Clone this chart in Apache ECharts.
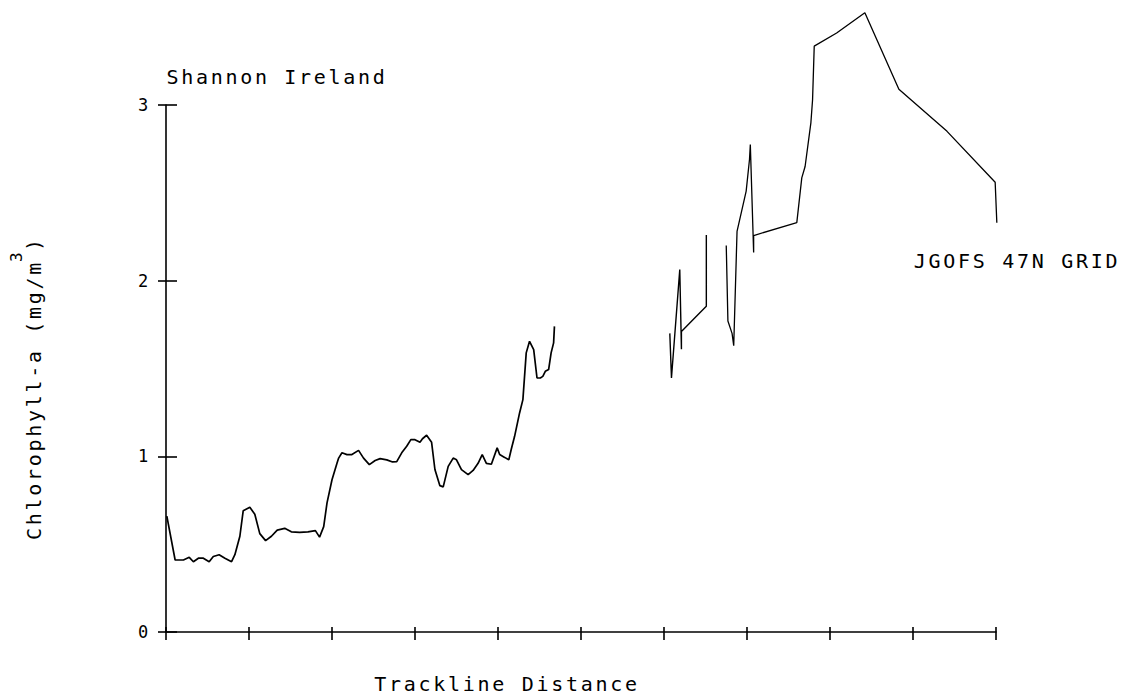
<!DOCTYPE html>
<html>
<head>
<meta charset="utf-8">
<script src="https://cdn.jsdelivr.net/npm/echarts@6/dist/echarts.min.js"></script>
<style>
html,body{margin:0;padding:0;background:#fff;}
#chart{width:1128px;height:698px;}
#chart text{letter-spacing:2.7px;}
</style>
</head>
<body>
<div id="chart"></div>
<script>
// Trackline distance (axis units 0..10) and chlorophyll-a (mg/m^3)
const shannonX = [0.01,0.11,0.21,0.28,0.33,0.39,0.45,0.52,0.57,0.64,0.71,0.79,0.83,0.89,0.93,1.01,1.07,1.13,1.20,1.27,1.34,1.43,1.51,1.61,1.71,1.80,1.85,1.90,1.94,2.00,2.06,2.08,2.12,2.18,2.24,2.32,2.38,2.45,2.52,2.58,2.66,2.73,2.78,2.84,2.90,2.95,3.00,3.06,3.09,3.14,3.20,3.24,3.30,3.34,3.40,3.46,3.50,3.56,3.64,3.70,3.76,3.81,3.86,3.92,3.99,4.02,4.08,4.13,4.16,4.20,4.26,4.30,4.34,4.38,4.43,4.47,4.51,4.54,4.57,4.61,4.64,4.67,4.68];
const shannonY = [0.66,0.41,0.41,0.425,0.40,0.42,0.42,0.40,0.43,0.44,0.42,0.40,0.44,0.545,0.69,0.71,0.67,0.56,0.52,0.545,0.58,0.59,0.57,0.567,0.57,0.577,0.54,0.60,0.735,0.867,0.96,0.99,1.02,1.01,1.01,1.034,0.99,0.953,0.976,0.987,0.98,0.968,0.97,1.02,1.057,1.095,1.095,1.08,1.10,1.12,1.08,0.925,0.833,0.826,0.943,0.99,0.98,0.924,0.896,0.92,0.96,1.01,0.96,0.955,1.048,1.01,0.994,0.98,1.04,1.114,1.247,1.323,1.589,1.655,1.608,1.446,1.446,1.455,1.484,1.494,1.589,1.646,1.74];
const gridAX = [6.07,6.09,6.19,6.21,6.21,6.45,6.51,6.51];
const gridAY = [1.70,1.446,2.063,1.61,1.71,1.826,1.854,2.26];
const gridBX = [6.75,6.77,6.82,6.84,6.88,6.99,7.03,7.04,7.08,7.08,7.60,7.66,7.70,7.77,7.79,7.81,8.08,8.42,8.83,9.41,9.99,10.01];
const gridBY = [2.20,1.77,1.70,1.63,2.28,2.51,2.69,2.775,2.16,2.257,2.33,2.585,2.65,2.90,3.03,3.335,3.41,3.525,3.09,2.85,2.56,2.33];
const yTicks = ['0','1','2','3'];

const pair = (xs, ys) => xs.map((x, i) => [x, ys[i]]);
const FONT = 'DejaVu Sans Mono';
const black = '#000';

const chart = echarts.init(document.getElementById('chart'), null, {renderer: 'svg'});
const lineSeries = (data, w) => ({
  type: 'line', data: data, showSymbol: false, symbol: 'none', clip: false,
  xAxisIndex: 0, yAxisIndex: 0, animation: false, silent: true,
  lineStyle: {color: black, width: w}
});
const txt = (s, x, y, size, align, rot) => ({
  type: 'text', x: x, y: y, rotation: rot || 0, silent: true,
  style: {text: s, fill: black, font: size + 'px "DejaVu Sans Mono"', align: align, verticalAlign: 'middle'}
});
chart.setOption({
  animation: false,
  backgroundColor: '#fff',
  grid: {left: 166, right: 132, top: 105, bottom: 66, containLabel: false},
  xAxis: [
    {type: 'value', min: 0, max: 10, interval: 1, position: 'bottom',
     axisLine: {show: true, lineStyle: {color: black, width: 1.6}},
     axisTick: {show: true, inside: false, length: 8, lineStyle: {color: black, width: 1.6}},
     axisLabel: {show: false}, splitLine: {show: false}},
    {type: 'value', min: 0, max: 10, interval: 1, position: 'bottom', offset: 0,
     axisLine: {show: false},
     axisTick: {show: true, inside: true, length: 5, lineStyle: {color: black, width: 1.6}},
     axisLabel: {show: false}, splitLine: {show: false}}
  ],
  yAxis: [
    {type: 'value', min: 0, max: 3, interval: 1, position: 'left',
     axisLine: {show: true, lineStyle: {color: black, width: 1.6}},
     axisTick: {show: true, inside: false, length: 8, lineStyle: {color: black, width: 1.6}},
     axisLabel: {show: true, color: black, fontFamily: FONT, fontSize: 17, margin: 15,
                 formatter: v => yTicks[Math.round(v)]},
     splitLine: {show: false}},
    {type: 'value', min: 0, max: 3, interval: 1, position: 'left', offset: 0,
     axisLine: {show: false},
     axisTick: {show: true, inside: true, length: 11, lineStyle: {color: black, width: 1.6}},
     axisLabel: {show: false}, splitLine: {show: false}}
  ],
  series: [
    lineSeries(pair(shannonX, shannonY), 1.7),
    lineSeries(pair(gridAX, gridAY), 1.4),
    lineSeries(pair(gridBX, gridBY), 1.3)
  ],
  graphic: [
    txt('Shannon Ireland', 277, 77, 20, 'center'),
    txt('JGOFS 47N GRID', 1017, 261, 20, 'center'),
    txt('Trackline Distance', 507, 684, 20, 'center'),
    txt('Chlorophyll-a (mg/m', 34, 540, 20, 'left', Math.PI / 2),
    txt('3', 16, 262, 16, 'left', Math.PI / 2),
    txt(')', 34, 251, 20, 'left', Math.PI / 2)
  ]
});
</script>
</body>
</html>
